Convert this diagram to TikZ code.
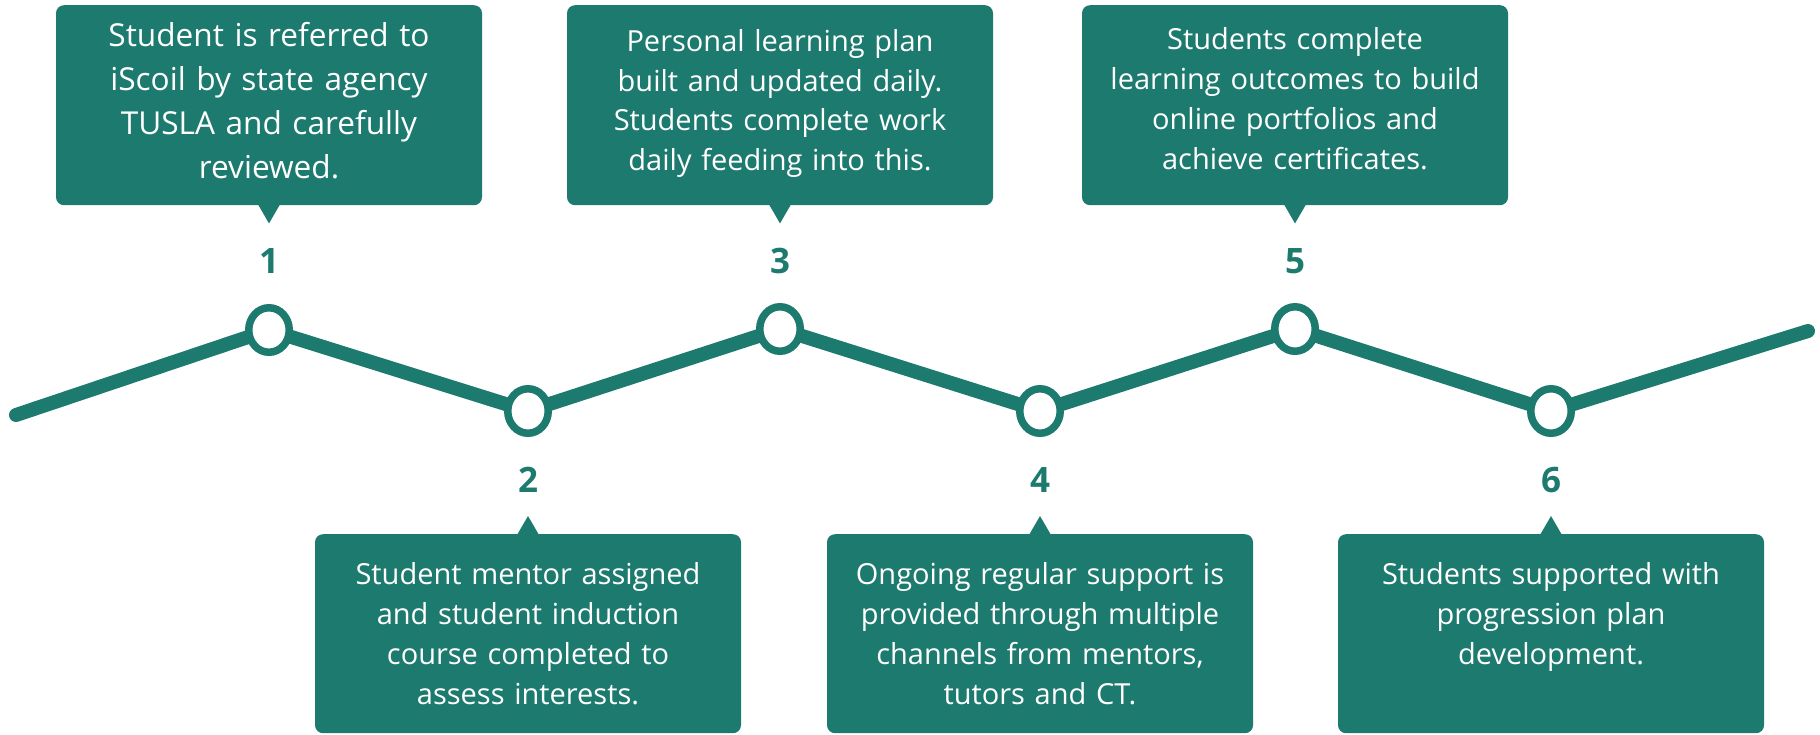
\documentclass[tikz,border=0pt]{standalone}
\usepackage{fontspec}
\setmainfont{Open Sans}
\usepackage{tikz}
\usetikzlibrary{shapes, backgrounds, positioning, calc}
\definecolor{stepteal}{HTML}{1D7A6E}

\begin{document}
\begin{tikzpicture}[x=1pt,y=-1pt,
        dot/.style={draw=stepteal, fill=white, ellipse, line width=7.5pt,
                minimum width=40.5pt, minimum height=44.5pt, inner sep=0pt},
        num/.style={text=stepteal, font=\fontsize{35}{35}\selectfont\bfseries},
        card/.style={fill=stepteal, text=white, rounded corners=8pt, text width=426pt,
                align=center, inner sep=0pt, anchor=north, font=\fontsize{29}{40}\selectfont},
        upcard/.style={card, text height=44pt, text depth=156pt},
        downcard/.style={card, text height=50pt, text depth=149pt},
        track/.style={draw=stepteal, line width=14pt, line cap=round, line join=round}]
        \useasboundingbox (0,0) rectangle (1820,734);

        % timeline points
        \node[dot] (c1) at (269,330) {};
        \node[dot] (c2) at (528,411) {};
        \node[dot] (c3) at (780,329) {};
        \node[dot] (c4) at (1040,411) {};
        \node[dot] (c5) at (1295,329) {};
        \node[dot] (c6) at (1551,411) {};
        \coordinate (s) at (16,415);
        \coordinate (e) at (1808,331);

        \begin{scope}[on background layer]
          \draw[track] (s) -- (c1.center) -- (c2.center) -- (c3.center) -- (c4.center)
                -- (c5.center) -- (c6.center) -- (e);
        \end{scope}

        \node[num] (n1) at (269,261) {1};
        \node[num] (n2) at (528,480) {2};
        \node[num] (n3) at (780,261) {3};
        \node[num] (n4) at (1040,480) {4};
        \node[num] (n5) at (1295,261) {5};
        \node[num] (n6) at (1551,480) {6};

        \node[upcard, font=\fontsize{31.6}{44}\selectfont, text height=41.7pt, text depth=158.3pt] (b1) at (269,5)
                {Student is referred to\\iScoil by state agency\\TUSLA and carefully\\reviewed.};
        \node[downcard] (b2) at (528,534) {Student mentor assigned\\and student induction\\course completed to\\assess interests.};
        \node[upcard, font=\fontsize{29}{39.5}\selectfont, text height=46.7pt, text depth=153.3pt] (b3) at (780,5)
                {Personal learning plan\\built and updated daily.\\Students complete work\\daily feeding into this.};
        \node[downcard] (b4) at (1040,534) {Ongoing regular support is\\provided through multiple\\channels from mentors,\\tutors and CT.};
        \node[upcard] (b5) at (1295,5) {Students complete\\learning outcomes to build\\online portfolios and\\achieve certificates.};
        \node[downcard] (b6) at (1551,534) {Students supported with\\progression plan\\development.};

        % pointers
        \foreach \b in {b1,b3,b5}
          \fill[stepteal] (\b.south) +(-11,-1) -- +(11,-1) -- +(0,18) -- cycle;
        \foreach \b in {b2,b4,b6}
          \fill[stepteal] (\b.north) +(-11,1) -- +(11,1) -- +(0,-18) -- cycle;
\end{tikzpicture}
\end{document}
